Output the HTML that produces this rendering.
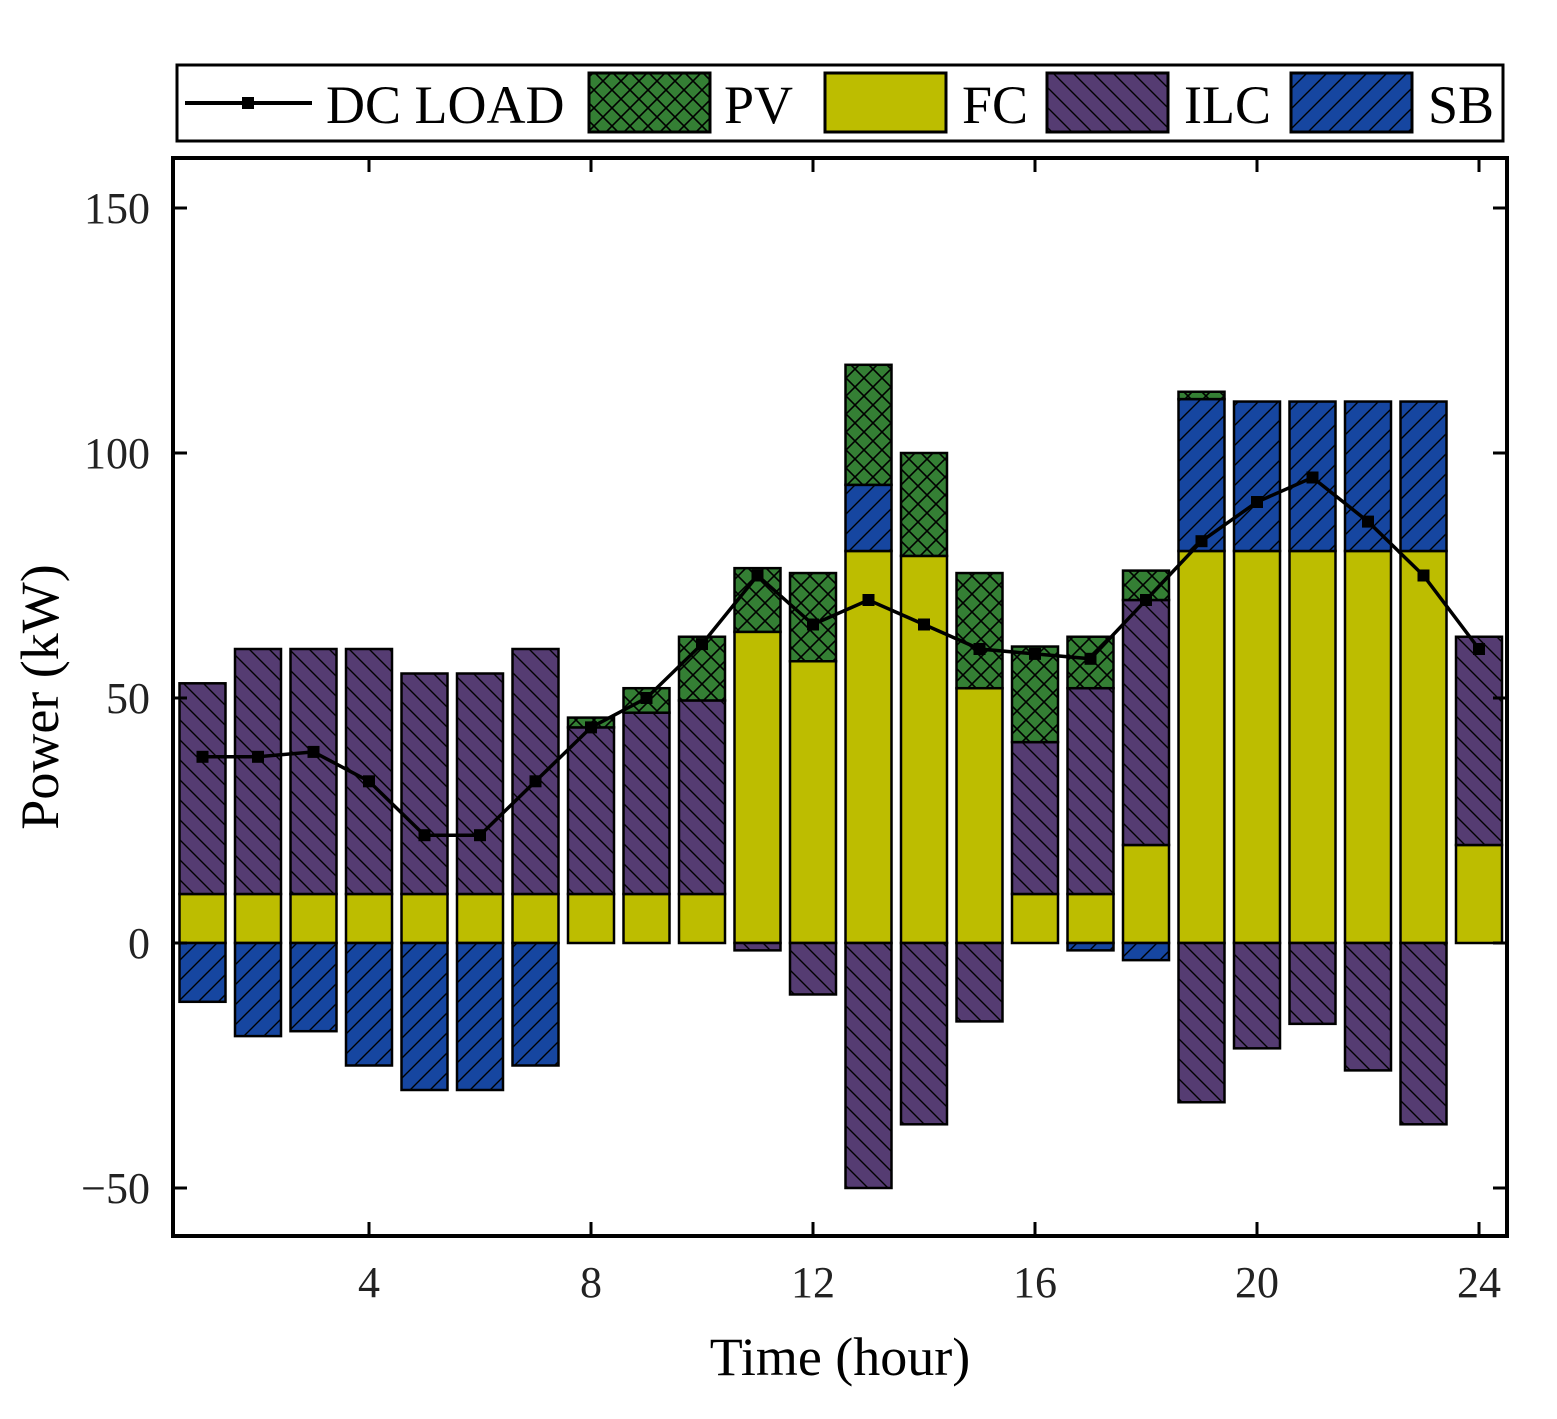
<!DOCTYPE html>
<html><head><meta charset="utf-8"><style>
html,body{margin:0;padding:0;background:#fff;}
svg{display:block;font-family:"Liberation Serif",serif;}
</style></head><body>
<svg id="chart" width="1557" height="1419" viewBox="0 0 1557 1419">
<defs>
<pattern id="pvP" patternUnits="userSpaceOnUse" width="18" height="18"><rect width="18" height="18" fill="#347f34"/><path d="M0,0L18,18M18,0L0,18" stroke="#000" stroke-width="1.6"/></pattern>
<pattern id="ilcP" patternUnits="userSpaceOnUse" width="20" height="20"><rect width="20" height="20" fill="#553c72"/><path d="M-5,-5L25,25M-5,15L5,25M15,-5L25,5" stroke="#000" stroke-width="1.4"/></pattern>
<pattern id="sbP" patternUnits="userSpaceOnUse" width="20" height="20"><rect width="20" height="20" fill="#1646a0"/><path d="M-5,25L25,-5M-5,5L5,-5M15,25L25,15" stroke="#000" stroke-width="1.4"/></pattern>
</defs>
<g id="legend">
<rect x="177" y="65" width="1326" height="76" fill="#fff" stroke="#000" stroke-width="3"/>
<g><line x1="185" y1="103" x2="312" y2="103" stroke="#000" stroke-width="4"/><rect x="242" y="97" width="12" height="12" fill="#000"/><text x="326" y="123" font-size="54">DC LOAD</text></g>
<g><rect x="589" y="73" width="121" height="59" fill="url(#pvP)" stroke="#000" stroke-width="3"/><text x="724" y="123" font-size="54">PV</text></g>
<g><rect x="825" y="73" width="121" height="59" fill="#bdbd00" stroke="#000" stroke-width="3"/><text x="962" y="123" font-size="54">FC</text></g>
<g><rect x="1047" y="73" width="121" height="59" fill="url(#ilcP)" stroke="#000" stroke-width="3"/><text x="1184" y="123" font-size="54">ILC</text></g>
<g><rect x="1291" y="73" width="121" height="59" fill="url(#sbP)" stroke="#000" stroke-width="3"/><text x="1428" y="123" font-size="54">SB</text></g>
</g>
<g id="bars"></g>
<g id="line"></g>
<g id="axes"></g>
<rect x="173" y="158" width="1334" height="1078" fill="none" stroke="#000" stroke-width="4"/>
<text x="840" y="1375" font-size="54" text-anchor="middle">Time (hour)</text>
<text transform="translate(58,697) rotate(-90)" font-size="54" text-anchor="middle">Power (kW)</text>
</svg>
<script>
const hours=[1,2,3,4,5,6,7,8,9,10,11,12,13,14,15,16,17,18,19,20,21,22,23,24];
const fc=[10,10,10,10,10,10,10,10,10,10,63.5,57.5,80,79,52,10,10,20,80,80,80,80,80,20];
const ilc=[43,50,50,50,45,45,50,34,37,39.5,-1.5,-10.5,-50,-37,-16,31,42,50,-32.5,-21.5,-16.5,-26,-37,42.5];
const sb=[-12,-19,-18,-25,-30,-30,-25,0,0,0,0,0,13.5,0,0,0,-1.5,-3.5,31,30.5,30.5,30.5,30.5,0];
const pv=[0,0,0,0,0,0,0,2,5,13,13,18,24.5,21,23.5,19.5,10.5,6,1.5,0,0,0,0,0];
const load=[38,38,39,33,22,22,33,44,50,61,75,65,70,65,60,59,58,70,82,90,95,86,75,60];
const yTicks=[-50,0,50,100,150];
const xTicks=[4,8,12,16,20,24];
const X=h=>202.5+(h-1)*55.5;
const Y=v=>943-v*4.9;
const NS="http://www.w3.org/2000/svg";
const bars=document.getElementById('bars'),line=document.getElementById('line'),axes=document.getElementById('axes');
function mk(t,a,p){const e=document.createElementNS(NS,t);for(const k in a)e.setAttribute(k,a[k]);p.appendChild(e);return e;}
const series=[['fc',fc,'#bdbd00'],['ilc',ilc,'url(#ilcP)'],['sb',sb,'url(#sbP)'],['pv',pv,'url(#pvP)']];
hours.forEach((h,i)=>{let pos=0,neg=0;const bw=46;
 series.forEach(([n,arr,fill])=>{const v=arr[i];if(!v)return;let a,b;
  if(v>0){a=pos;b=pos+v;pos=b;}else{a=neg;b=neg+v;neg=b;}
  const y1=Y(Math.max(a,b)),y2=Y(Math.min(a,b));
  const r=mk('rect',{x:X(h)-bw/2,y:y1,width:bw,height:y2-y1,fill:fill,stroke:'#000','stroke-width':2.5},bars);
  
  
 });
});
mk('polyline',{points:hours.map((h,i)=>X(h)+','+Y(load[i])).join(' '),fill:'none',stroke:'#000','stroke-width':3.5},line);
hours.forEach((h,i)=>{const r=mk('rect',{x:X(h)-6,y:Y(load[i])-6,width:12,height:12,fill:'#000'},line);
 
 });
yTicks.forEach(v=>{const y=Y(v);
 mk('line',{x1:173,y1:y,x2:187,y2:y,stroke:'#000','stroke-width':3},axes);
 mk('line',{x1:1493,y1:y,x2:1507,y2:y,stroke:'#000','stroke-width':3},axes);
 const t=mk('text',{x:150,y:y+15,'font-size':44,'text-anchor':'end',fill:'#222'},axes);t.textContent=v<0?'\u2212'+(-v):v;
 
 });
xTicks.forEach(v=>{const x=X(v);
 mk('line',{x1:x,y1:1236,x2:x,y2:1222,stroke:'#000','stroke-width':3},axes);
 mk('line',{x1:x,y1:158,x2:x,y2:172,stroke:'#000','stroke-width':3},axes);
 const t=mk('text',{x:x,y:1297,'font-size':44,'text-anchor':'middle',fill:'#222'},axes);t.textContent=v;
 
 });
</script>
</body></html>
